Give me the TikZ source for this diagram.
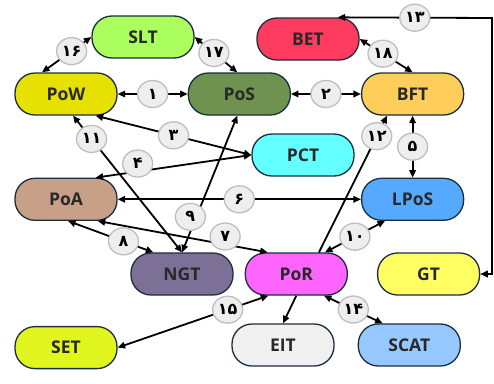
\documentclass[tikz,border=0pt]{standalone}
\usepackage{fontspec}
\setmainfont{Open Sans}
\newfontfamily\fanum{DejaVu Sans}
\usetikzlibrary{positioning,arrows.meta,shapes.geometric}

\definecolor{rimblue}{RGB}{28,45,62}
\definecolor{txtgray}{RGB}{40,40,40}
\definecolor{lblfill}{RGB}{238,238,238}
\definecolor{lbldraw}{RGB}{190,190,190}
\definecolor{cslt}{RGB}{170,255,95}
\definecolor{cbet}{RGB}{255,60,95}
\definecolor{cpow}{RGB}{230,225,0}
\definecolor{cpos}{RGB}{112,146,80}
\definecolor{cbft}{RGB}{255,205,90}
\definecolor{cpct}{RGB}{100,255,255}
\definecolor{cpoa}{RGB}{200,160,135}
\definecolor{clpos}{RGB}{85,170,255}
\definecolor{cngt}{RGB}{125,112,150}
\definecolor{cpor}{RGB}{255,100,255}
\definecolor{cgt}{RGB}{255,255,100}
\definecolor{cset}{RGB}{225,245,30}
\definecolor{ceit}{RGB}{240,240,240}
\definecolor{cscat}{RGB}{150,200,255}

\begin{document}
\begin{tikzpicture}[x=1pt,y=-1pt,>={Triangle[length=7.5pt,width=6.5pt]},
	tnode/.style={rectangle,rounded corners=20pt,draw=rimblue,line width=1.3pt,minimum width=102pt,minimum height=42pt,inner sep=0pt,text=txtgray,font=\bfseries\fontsize{17.5}{17.5}\selectfont},
	lbl/.style={ellipse,draw=lbldraw,fill=lblfill,line width=1.3pt,minimum width=30pt,minimum height=27pt,inner sep=0pt,text=black,font=\fanum\bfseries\fontsize{16}{16}\selectfont},
	link/.style={line width=1.8pt,<->}]
	\useasboundingbox (0,0) rectangle (494,383);
	\node[tnode,fill=cpow] (pow) at (66,94) {PoW};
	\node[tnode,fill=cpos] (pos) [right=70pt of pow] {PoS};
	\node[tnode,fill=cbft] (bft) [right=70pt of pos] {BFT};
	\node[tnode,fill=cslt] (slt) at (143,37) {SLT};
	\node[tnode,fill=cbet] (bet) at (308,39) {BET};
	\node[tnode,fill=cpct] (pct) at (303,155) {PCT};
	\node[tnode,fill=cpoa] (poa) [below=62pt of pow] {PoA};
	\node[tnode,fill=clpos] (lpos) [below=62pt of bft] {LPoS};
	\node[tnode,fill=cngt] (ngt) at (182,274) {NGT};
	\node[tnode,fill=cpor] (por) [right=11pt of ngt] {PoR};
	\node[tnode,fill=cgt] (gt) [right=29pt of por] {GT};
	\node[tnode,fill=cset] (set) [below=105pt of poa] {SET};
	\node[tnode,fill=ceit] (eit) at (283,345) {EIT};
	\node[tnode,fill=cscat] (scat) [right=23pt of eit] {SCAT};
	\coordinate (turn) at (492,18);
	\draw[link] (pow.east) -- node[lbl] {۱} (pos.west);
	\draw[link] (pos.east) -- node[lbl] {۲} (bft.west);
	\draw[link] ([xshift=-22pt]pow.south east) -- node[lbl] {۳} (pct.west);
	\draw[link] ([xshift=-22pt]poa.north east) -- node[lbl,pos=0.27,yshift=8pt] {۴} (pct.west);
	\draw[link] (bft.south) -- node[lbl] {۵} (lpos.north);
	\draw[link] (poa.east) -- node[lbl] {۶} (lpos.west);
	\draw[link] ([xshift=-20pt]poa.south east) -- node[lbl,pos=0.75,yshift=8pt] {۷} ([xshift=23pt]por.north west);
	\draw[link] ([xshift=2pt]poa.south) -- node[lbl,pos=0.65] {۸} ([xshift=23pt]ngt.north west);
	\draw[link] (ngt.north) -- node[lbl,pos=0.26,xshift=-6pt] {۹} ([xshift=-2pt]pos.south);
	\draw[link] ([xshift=-23pt]por.north east) -- node[lbl] {۱۰} ([xshift=24pt]lpos.south west);
	\draw[link] ([xshift=7pt]pow.south) -- node[lbl,pos=0.17] {۱۱} (ngt.north);
	\draw[line width=1.8pt,->] ([xshift=-29pt]por.north east) -- node[lbl,pos=0.85] {۱۲} ([xshift=26pt]bft.south west);
	\draw[link] ([xshift=-22pt]bet.north east) -- node[lbl] {۱۳} (turn) |- (gt.east);
	\draw[link] ([xshift=-24pt]por.south east) -- node[lbl] {۱۴} ([xshift=25pt]scat.north west);
	\draw[link] ([xshift=-28pt]por.south) -- node[lbl,pos=0.27] {۱۵} (set.east);
	\draw[link] (slt.west) -- node[lbl,pos=0.4] {۱۶} ([xshift=-24pt]pow.north);
	\draw[link] (slt.east) -- node[lbl,pos=0.45] {۱۷} ([xshift=-2pt]pos.north);
	\draw[link] (bet.east) -- node[lbl,pos=0.44] {۱۸} (bft.north);
	\draw[line width=1.8pt,->] (por.south) -- (eit.north);
\end{tikzpicture}
\end{document}
